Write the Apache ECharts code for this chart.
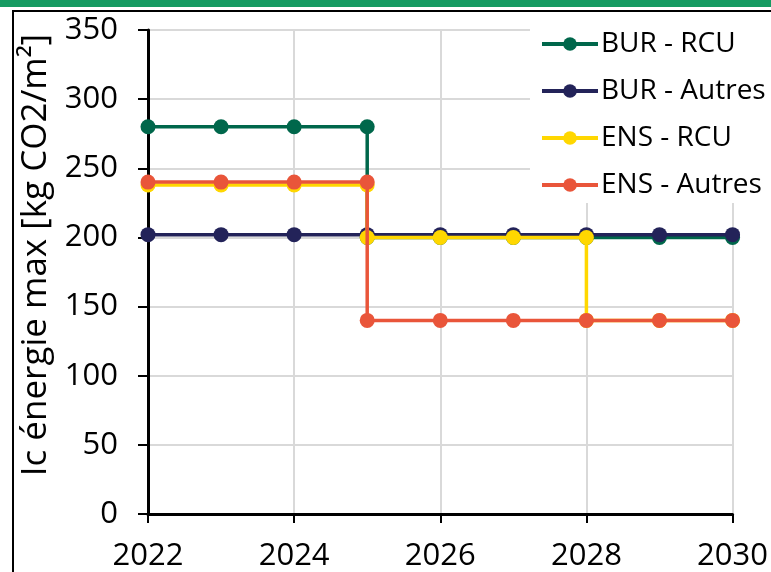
<!DOCTYPE html>
<html>
<head>
<meta charset="utf-8">
<script src="https://cdn.jsdelivr.net/npm/echarts@6/dist/echarts.min.js"></script>
<style>
  html, body { margin: 0; padding: 0; background: #fff; }
  #chart { width: 771px; height: 572px; }
</style>
</head>
<body>
<div id="chart"></div>
<script>
// step series: the step year appears twice
const burRcuX = [2022, 2023, 2024, 2025, 2025, 2026, 2027, 2028, 2029, 2030];
const burRcuY = [280, 280, 280, 280, 200, 200, 200, 200, 200, 200];

const burAutresX = [2022, 2023, 2024, 2025, 2026, 2027, 2028, 2029, 2030];
const burAutresY = [202, 202, 202, 202, 202, 202, 202, 202, 202];

const ensRcuX = [2022, 2023, 2024, 2025, 2025, 2026, 2027, 2028, 2028, 2029, 2030];
const ensRcuY = [238, 238, 238, 238, 200, 200, 200, 200, 140, 140, 140];

const ensAutresX = [2022, 2023, 2024, 2025, 2025, 2026, 2027, 2028, 2029, 2030];
const ensAutresY = [240, 240, 240, 240, 140, 140, 140, 140, 140, 140];

const seriesNames = ['BUR - RCU', 'BUR - Autres', 'ENS - RCU', 'ENS - Autres'];
const seriesColors = ['#00674B', '#232359', '#FFD700', '#E9553A'];

const yTitle = 'Ic énergie max [kg CO2/m²]';

function pairs (xs, ys) {
  return xs.map((x, i) => [x, ys[i]]);
}

const allData = [
  pairs(burRcuX, burRcuY),
  pairs(burAutresX, burAutresY),
  pairs(ensRcuX, ensRcuY),
  pairs(ensAutresX, ensAutresY)
];

const font = '"Open Sans", "Noto Sans", sans-serif';

const chart = echarts.init(document.getElementById('chart'));
chart.setOption({
  animation: false,
  textStyle: { fontFamily: font },
  graphic: [
    { type: 'rect', shape: { x: 0, y: 0, width: 771, height: 7 }, style: { fill: '#169B62' }, z: 0 },
    { type: 'rect', shape: { x: 13, y: 11, width: 800, height: 600 },
      style: { fill: 'none', stroke: '#000', lineWidth: 2 }, z: 0 }
  ],
  grid: { left: 148, top: 30, right: 37, bottom: 58 },
  legend: {
    orient: 'vertical',
    left: 530,
    top: 26,
    padding: [4, 4, 4, 10],
    backgroundColor: '#fff',
    itemWidth: 56,
    itemHeight: 17,
    itemGap: 19,
    lineStyle: { width: 4 },
    textStyle: { fontSize: 28, color: '#000', fontFamily: font, padding: [0, 0, 0, -2] },
    data: seriesNames,
    z: 10
  },
  xAxis: {
    type: 'value',
    min: 2022,
    max: 2030,
    interval: 2,
    axisLine: { show: true, lineStyle: { color: '#000', width: 3 } },
    axisTick: { show: true, length: 9, lineStyle: { color: '#000', width: 2 } },
    axisLabel: { fontSize: 31, color: '#000', margin: 27, formatter: v => String(v) },
    splitLine: { show: true, lineStyle: { color: '#d9d9d9', width: 2 } }
  },
  yAxis: {
    type: 'value',
    min: 0,
    max: 350,
    interval: 50,
    name: yTitle,
    nameLocation: 'middle',
    nameGap: 84,
    nameTextStyle: { fontSize: 35, color: '#000', padding: [0, 0, 0, 34] },
    axisLine: { show: true, lineStyle: { color: '#000', width: 3 } },
    axisTick: { show: true, length: 10, lineStyle: { color: '#000', width: 2 } },
    axisLabel: { fontSize: 31, color: '#000', margin: 30 },
    splitLine: { show: true, lineStyle: { color: '#d9d9d9', width: 2 } }
  },
  series: seriesNames.map((name, i) => ({
    name: name,
    type: 'line',
    data: allData[i],
    color: seriesColors[i],
    symbol: 'circle',
    symbolSize: 15,
    showAllSymbol: true,
    lineStyle: { width: 3.5, color: seriesColors[i] },
    itemStyle: { color: seriesColors[i] },
    z: 2 + i
  }))
});
</script>
</body>
</html>
